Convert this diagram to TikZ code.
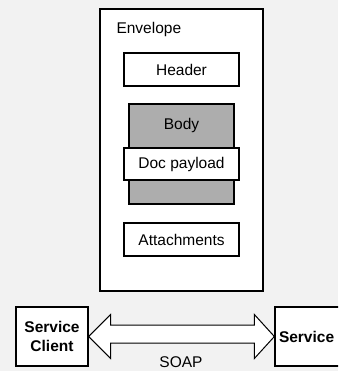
\documentclass[tikz,border=0pt]{standalone}
\usepackage{fontspec}
\setmainfont{Liberation Sans}
\usetikzlibrary{calc}
\begin{document}
\begin{tikzpicture}[x=1pt,y=-1pt,
  font=\fontsize{15.5}{17}\selectfont,
  box/.style={draw=black, line width=1.3pt, fill=white, inner sep=0pt},
  part/.style={box, minimum width=115pt, minimum height=33pt},
  actor/.style={box, minimum width=72pt, minimum height=59pt, align=center,
                font=\fontsize{15.5}{19}\selectfont\bfseries},
  pipe/.style={draw=black, line width=1pt, fill=white, line join=miter}]
  % page and backdrop
  \useasboundingbox (0,0) rectangle (338,371);
  \clip (0,0) rectangle (338,371);
  \fill[black!5] (0,0) rectangle (338,371);

  % SOAP message
  \node[box, minimum width=163pt, minimum height=282pt] (env) at (181.5,150) {};
  \node[anchor=west] (envlabel) at (113,29) {Envelope};
  \node[part] (header) at (181.5,69.5) {Header};
  \node[box, fill=black!32, minimum width=105pt, minimum height=100pt] (body) at (181.5,154) {};
  \node (bodylabel) at (181.5,125) {Body};
  \node[part, minimum height=32pt] (payload) at (181.5,164) {Doc payload};
  \node[part] (attach) at (181.5,239.5) {Attachments};

  % endpoints
  \node[actor] (client) at (52,336.5) {Service\\Client};
  \node[actor, text width=64pt, align=left] (service) at (311,336.5) {Service};

  % two-way transport arrow
  \draw[pipe] (client.east)
     -- ($(client.east)+(22,-22)$) -- ($(client.east)+(22,-11.5)$)
     -- ($(service.west)+(-20,-11.5)$) -- ($(service.west)+(-20,-22)$)
     -- (service.west)
     -- ($(service.west)+(-20,22)$) -- ($(service.west)+(-20,6.5)$)
     -- ($(client.east)+(22,6.5)$) -- ($(client.east)+(22,22)$) -- cycle;
  \node (soap) at (181,362) {SOAP};
\end{tikzpicture}
\end{document}
